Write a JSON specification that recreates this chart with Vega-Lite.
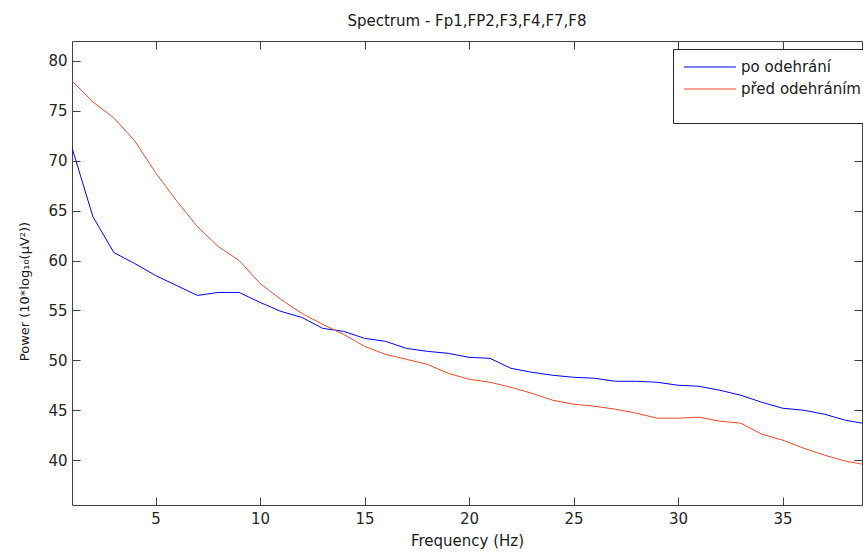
{
  "$schema": "https://vega.github.io/schema/vega-lite/v6.json",
  "autosize": {"type": "none"},
  "padding": {"left": 72, "top": 41, "right": 1, "bottom": 48},
  "width": 790,
  "height": 464,
  "background": "white",
  "title": {"text": "Spectrum - Fp1,FP2,F3,F4,F7,F8", "font": "DejaVu Sans", "fontSize": 15, "fontWeight": "normal", "color": "#1a1a1a", "offset": 12, "anchor": "middle"},
  "config": {
    "view": {"stroke": null},
    "font": "DejaVu Sans",
    "axis": {"grid": false, "domainColor": "#404040", "tickColor": "#404040", "tickSize": -8, "labelFont": "DejaVu Sans", "labelFontSize": 15, "labelColor": "#262626", "titleFont": "DejaVu Sans", "titleFontSize": 15, "titleFontWeight": "normal", "titleColor": "#1a1a1a"}
  },
  "data": {"values": [
    {"f": 1, "p": 71.3, "s": "po odehrání"},
    {"f": 2, "p": 64.4, "s": "po odehrání"},
    {"f": 3, "p": 60.8, "s": "po odehrání"},
    {"f": 4, "p": 59.7, "s": "po odehrání"},
    {"f": 5, "p": 58.5, "s": "po odehrání"},
    {"f": 6, "p": 57.5, "s": "po odehrání"},
    {"f": 7, "p": 56.5, "s": "po odehrání"},
    {"f": 8, "p": 56.8, "s": "po odehrání"},
    {"f": 9, "p": 56.8, "s": "po odehrání"},
    {"f": 10, "p": 55.8, "s": "po odehrání"},
    {"f": 11, "p": 54.9, "s": "po odehrání"},
    {"f": 12, "p": 54.3, "s": "po odehrání"},
    {"f": 13, "p": 53.2, "s": "po odehrání"},
    {"f": 14, "p": 52.9, "s": "po odehrání"},
    {"f": 15, "p": 52.2, "s": "po odehrání"},
    {"f": 16, "p": 51.9, "s": "po odehrání"},
    {"f": 17, "p": 51.2, "s": "po odehrání"},
    {"f": 18, "p": 50.9, "s": "po odehrání"},
    {"f": 19, "p": 50.7, "s": "po odehrání"},
    {"f": 20, "p": 50.3, "s": "po odehrání"},
    {"f": 21, "p": 50.2, "s": "po odehrání"},
    {"f": 22, "p": 49.2, "s": "po odehrání"},
    {"f": 23, "p": 48.8, "s": "po odehrání"},
    {"f": 24, "p": 48.5, "s": "po odehrání"},
    {"f": 25, "p": 48.3, "s": "po odehrání"},
    {"f": 26, "p": 48.2, "s": "po odehrání"},
    {"f": 27, "p": 47.9, "s": "po odehrání"},
    {"f": 28, "p": 47.9, "s": "po odehrání"},
    {"f": 29, "p": 47.8, "s": "po odehrání"},
    {"f": 30, "p": 47.5, "s": "po odehrání"},
    {"f": 31, "p": 47.4, "s": "po odehrání"},
    {"f": 32, "p": 47.0, "s": "po odehrání"},
    {"f": 33, "p": 46.5, "s": "po odehrání"},
    {"f": 34, "p": 45.8, "s": "po odehrání"},
    {"f": 35, "p": 45.2, "s": "po odehrání"},
    {"f": 36, "p": 45.0, "s": "po odehrání"},
    {"f": 37, "p": 44.6, "s": "po odehrání"},
    {"f": 38, "p": 44.0, "s": "po odehrání"},
    {"f": 38.8, "p": 43.7, "s": "po odehrání"},
    {"f": 1, "p": 78.0, "s": "před odehráním"},
    {"f": 2, "p": 75.9, "s": "před odehráním"},
    {"f": 3, "p": 74.3, "s": "před odehráním"},
    {"f": 4, "p": 72.0, "s": "před odehráním"},
    {"f": 5, "p": 68.8, "s": "před odehráním"},
    {"f": 6, "p": 66.0, "s": "před odehráním"},
    {"f": 7, "p": 63.4, "s": "před odehráním"},
    {"f": 8, "p": 61.4, "s": "před odehráním"},
    {"f": 9, "p": 60.0, "s": "před odehráním"},
    {"f": 10, "p": 57.7, "s": "před odehráním"},
    {"f": 11, "p": 56.1, "s": "před odehráním"},
    {"f": 12, "p": 54.7, "s": "před odehráním"},
    {"f": 13, "p": 53.6, "s": "před odehráním"},
    {"f": 14, "p": 52.6, "s": "před odehráním"},
    {"f": 15, "p": 51.4, "s": "před odehráním"},
    {"f": 16, "p": 50.6, "s": "před odehráním"},
    {"f": 17, "p": 50.1, "s": "před odehráním"},
    {"f": 18, "p": 49.6, "s": "před odehráním"},
    {"f": 19, "p": 48.7, "s": "před odehráním"},
    {"f": 20, "p": 48.1, "s": "před odehráním"},
    {"f": 21, "p": 47.8, "s": "před odehráním"},
    {"f": 22, "p": 47.3, "s": "před odehráním"},
    {"f": 23, "p": 46.7, "s": "před odehráním"},
    {"f": 24, "p": 46.0, "s": "před odehráním"},
    {"f": 25, "p": 45.6, "s": "před odehráním"},
    {"f": 26, "p": 45.4, "s": "před odehráním"},
    {"f": 27, "p": 45.1, "s": "před odehráním"},
    {"f": 28, "p": 44.7, "s": "před odehráním"},
    {"f": 29, "p": 44.2, "s": "před odehráním"},
    {"f": 30, "p": 44.2, "s": "před odehráním"},
    {"f": 31, "p": 44.3, "s": "před odehráním"},
    {"f": 32, "p": 43.9, "s": "před odehráním"},
    {"f": 33, "p": 43.7, "s": "před odehráním"},
    {"f": 34, "p": 42.6, "s": "před odehráním"},
    {"f": 35, "p": 42.0, "s": "před odehráním"},
    {"f": 36, "p": 41.2, "s": "před odehráním"},
    {"f": 37, "p": 40.5, "s": "před odehráním"},
    {"f": 38, "p": 39.9, "s": "před odehráním"},
    {"f": 38.8, "p": 39.6, "s": "před odehráním"}
  ]},
  "layer": [
    {
      "mark": {"type": "line", "strokeWidth": 1, "clip": true},
      "encoding": {
        "x": {"field": "f", "type": "quantitative", "scale": {"domain": [1, 38.8], "nice": false, "zero": false},
              "axis": {"title": "Frequency (Hz)", "values": [5, 10, 15, 20, 25, 30, 35], "labelPadding": 14, "titlePadding": 7}},
        "y": {"field": "p", "type": "quantitative", "scale": {"domain": [35.5, 82], "nice": false, "zero": false},
              "axis": {"title": "Power (10*log₁₀(μV²))", "titleFontSize": 13, "values": [40, 45, 50, 55, 60, 65, 70, 75, 80], "labelPadding": 13, "titleAngle": -90, "titleX": -48, "titleY": 250, "titleBaseline": "middle", "titleAlign": "center"}},
        "color": {"field": "s", "type": "nominal", "sort": ["po odehrání", "před odehráním"],
                  "scale": {"domain": ["po odehrání", "před odehráním"], "range": ["#0000ff", "#ee4a2a"]},
                  "legend": {"orient": "none", "legendX": 601, "legendY": 8, "title": "\u200b", "titleOrient": "bottom", "titleFontSize": 19, "titlePadding": 0,
                             "symbolType": "M-0.7,0H4.5", "symbolSize": 400, "symbolStrokeWidth": 1.2, "symbolFillColor": "transparent",
                             "labelFont": "DejaVu Sans", "labelFontSize": 15, "labelColor": "#1a1a1a", "labelOffset": 39,
                             "padding": 7, "rowPadding": 3, "strokeColor": "#262626", "fillColor": "white", "cornerRadius": 0}}
      }
    },
    {
      "mark": {"type": "line", "opacity": 0},
      "encoding": {
        "x": {"field": "f", "type": "quantitative", "axis": {"orient": "top", "labels": false, "title": null, "values": [5, 10, 15, 20, 25, 30, 35]}},
        "y": {"field": "p", "type": "quantitative", "axis": {"orient": "right", "labels": false, "title": null, "values": [40, 45, 50, 55, 60, 65, 70, 75, 80]}},
        "detail": {"field": "s"}
      }
    }
  ],
  "resolve": {"axis": {"x": "independent", "y": "independent"}}
}
